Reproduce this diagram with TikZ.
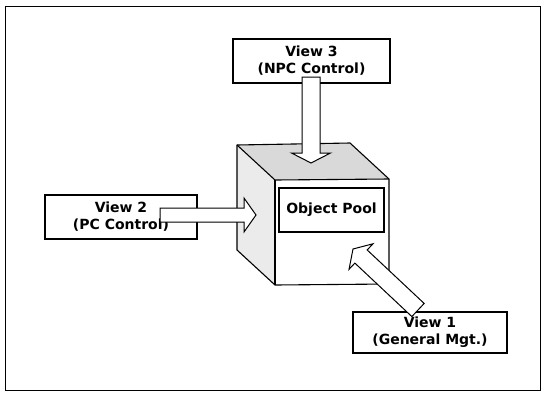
\documentclass[tikz,border=0pt]{standalone}
\usepackage{fontspec}
\newfontfamily\boxfont{DejaVu Sans}
\usetikzlibrary{calc}

% Block arrow from #1 (tail) to #2 (tip):
% #3 shaft half-width, #4 head half-width, #5 head length
\newcommand{\blockarrow}[5]{%
  \coordinate (hb) at ($(#2)!#5!(#1)$);
  \draw[arrowbody]
    ($(#1)!#3!90:(#2)$) -- ($(hb)!#3!90:(#2)$) -- ($(hb)!#4!90:(#2)$) --
    (#2) --
    ($(hb)!#4!-90:(#2)$) -- ($(hb)!#3!-90:(#2)$) -- ($(#1)!#3!-90:(#2)$) -- cycle;
}

\begin{document}
\begin{tikzpicture}[x=1pt, y=-1pt,
  frame/.style={draw, line width=1pt},
  cubeedge/.style={draw, line width=1.1pt, line join=round},
  labelbox/.style={draw, line width=1.1pt, fill=white, inner sep=0pt,
    align=center, font=\boxfont\bfseries\fontsize{14}{17}\selectfont},
  arrowbody/.style={draw, fill=white, line width=1pt, line join=miter}]

  \useasboundingbox (0,0) rectangle (543,397);

  % outer frame
  \draw[frame] (5,6) rectangle (540,390);

  % cube corners
  \coordinate (bl) at (237,145);  % back top-left
  \coordinate (br) at (350,143);  % back top-right
  \coordinate (ftl) at (275,180); % front top-left
  \coordinate (ftr) at (389,179); % front top-right
  \coordinate (fbl) at (275,285); % front bottom-left
  \coordinate (fbr) at (389,284); % front bottom-right
  \coordinate (bbl) at (237,250); % back bottom-left

  % cube faces
  \fill[black!15] (bl) -- (br) -- (ftr) -- (ftl) -- cycle;
  \fill[black!8] (bl) -- (ftl) -- (fbl) -- (bbl) -- cycle;
  \draw[cubeedge] (bl) -- (br) -- (ftr) -- (fbr) -- (fbl) -- (bbl) -- cycle;
  \draw[cubeedge] (bl) -- (ftl) -- (ftr);
  \draw[cubeedge] (ftl) -- (fbl);

  % object pool label on the front face
  \node[labelbox, minimum width=105pt, minimum height=44pt] (pool) at (331.5,210) {Object Pool};

  % views
  \node[labelbox, minimum width=157pt, minimum height=44pt] (v3) at (311.5,61) {View 3\\(NPC Control)};
  \node[labelbox, minimum width=152pt, minimum height=44pt] (v2) at (121,217) {View 2\\(PC Control)};
  \node[labelbox, minimum width=154pt, minimum height=41pt] (v1) at (430,332.5) {View 1\\(General Mgt.)};

  % arrow end points
  \coordinate (t3) at (311,77);
  \coordinate (h3) at (311,163);
  \coordinate (t2) at (160,215);
  \coordinate (h2) at (256,215);
  \coordinate (t1) at (418,310);
  \coordinate (h1) at (353,249);

  \blockarrow{t3}{h3}{9pt}{19.5pt}{10pt}
  \blockarrow{t2}{h2}{7pt}{17pt}{12pt}
  \blockarrow{t1}{h1}{9pt}{17.5pt}{11pt}
\end{tikzpicture}
\end{document}
